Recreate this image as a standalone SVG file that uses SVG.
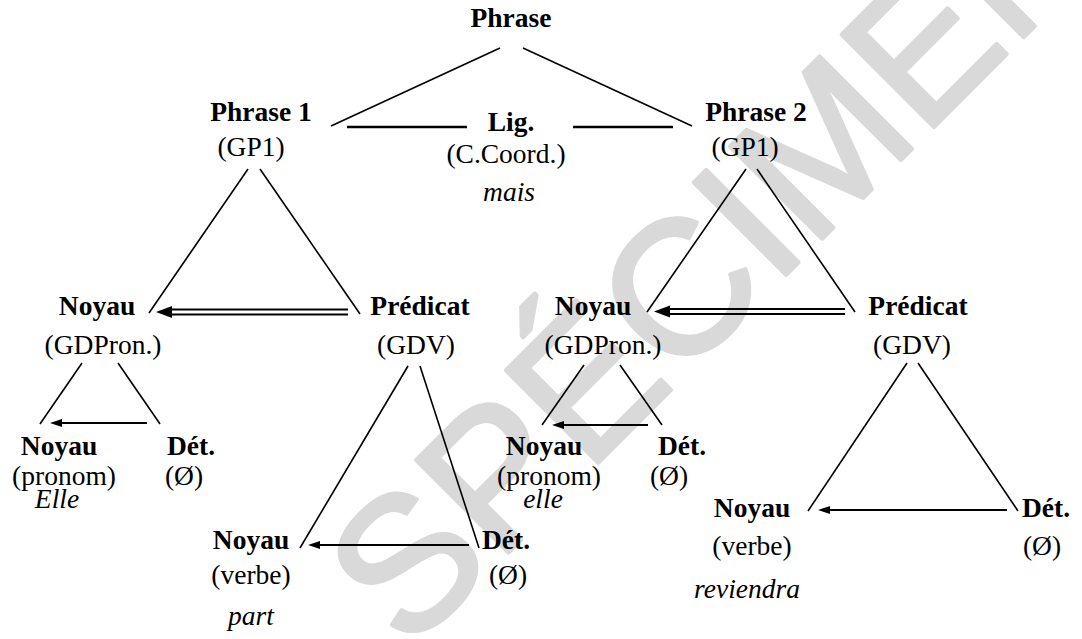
<svg xmlns="http://www.w3.org/2000/svg" width="1082" height="639" viewBox="0 0 1082 639">
<style>
.lb text{font-family:"Liberation Serif","Times New Roman",serif;font-size:27.5px;fill:#000;text-anchor:middle}
.lb .b{font-weight:bold}
.lb .i{font-style:italic}
.wm{font-family:"Liberation Sans",Arial,sans-serif;font-size:190px;fill:#d9d9d9;stroke:#d9d9d9;stroke-width:4;stroke-linejoin:round}
.t{stroke:#000;stroke-width:1.6;fill:none}
.lig{stroke:#000;stroke-width:2.6;fill:none}
.a{stroke:#000;stroke-width:2.2;fill:none}
.d{stroke:#000;stroke-width:2;fill:none}
</style>
<rect width="1082" height="639" fill="#fff"/>
<text class="wm" x="408" y="653" transform="rotate(-45 408 653)">SPÉCIMEN</text>

<g id="connectors">
<line class="t" x1="500" y1="48" x2="331" y2="126"/>
<line class="t" x1="523" y1="48" x2="692" y2="126"/>
<line class="lig" x1="347" y1="127" x2="467" y2="127"/>
<line class="lig" x1="573" y1="127" x2="673" y2="127"/>
<line class="t" x1="248" y1="169" x2="149" y2="313"/>
<line class="t" x1="260" y1="169" x2="360" y2="314"/>
<line class="t" x1="746" y1="169" x2="647" y2="312"/>
<line class="t" x1="757" y1="169" x2="855" y2="312"/>
<line class="d" x1="348" y1="309.5" x2="168" y2="309.5"/>
<line class="d" x1="348" y1="314.5" x2="168" y2="314.5"/>
<path d="M156,312 L172,306 L172,318 Z" fill="#000"/>
<line class="d" x1="845" y1="309" x2="666" y2="309"/>
<line class="d" x1="845" y1="314" x2="666" y2="314"/>
<path d="M654,311.5 L670,305.5 L670,317.5 Z" fill="#000"/>
<line class="t" x1="82" y1="363" x2="40" y2="424"/>
<line class="t" x1="118" y1="363" x2="160" y2="424"/>
<line class="a" x1="147" y1="423" x2="60" y2="423"/>
<path d="M50,423 L62,419 L62,427 Z" fill="#000"/>
<line class="t" x1="584" y1="365" x2="542" y2="425"/>
<line class="t" x1="620" y1="365" x2="662" y2="425"/>
<line class="a" x1="648" y1="425" x2="562" y2="425"/>
<path d="M552,425 L564,421 L564,429 Z" fill="#000"/>
<line class="t" x1="408" y1="366" x2="300" y2="548"/>
<line class="t" x1="420" y1="366" x2="479" y2="548"/>
<line class="a" x1="469" y1="545" x2="318" y2="545"/>
<path d="M308,545 L320,541 L320,549 Z" fill="#000"/>
<line class="t" x1="907" y1="363" x2="808" y2="511"/>
<line class="t" x1="918" y1="363" x2="1018" y2="511"/>
<line class="a" x1="1007" y1="510" x2="828" y2="510"/>
<path d="M818,510 L830,506 L830,514 Z" fill="#000"/>
</g>

<g class="lb">
<g id="phrase"><text class="b" x="511" y="27">Phrase</text></g>
<g id="phrase1"><text class="b" x="261" y="121">Phrase 1</text><text x="251" y="156">(GP1)</text></g>
<g id="lig"><text class="b" x="511" y="131">Lig.</text><text x="506" y="163">(C.Coord.)</text><text class="i" x="509" y="201">mais</text></g>
<g id="phrase2"><text class="b" x="756" y="121">Phrase 2</text><text x="745" y="156">(GP1)</text></g>
<g id="noyau1"><text class="b" x="97" y="315">Noyau</text><text x="103" y="354">(GDPron.)</text></g>
<g id="predicat1"><text class="b" x="420" y="315">Prédicat</text><text x="416" y="354">(GDV)</text></g>
<g id="noyau1a"><text class="b" x="59" y="455">Noyau</text><text x="64" y="485">(pronom)</text><text class="i" x="57" y="508">Elle</text></g>
<g id="det1a"><text class="b" x="191" y="455">Dét.</text><text x="184" y="485">(Ø)</text></g>
<g id="noyau1b"><text class="b" x="251" y="549">Noyau</text><text x="251" y="584">(verbe)</text><text class="i" x="251" y="625">part</text></g>
<g id="det1b"><text class="b" x="506" y="549">Dét.</text><text x="508" y="584">(Ø)</text></g>
<g id="noyau2"><text class="b" x="593" y="315">Noyau</text><text x="603" y="354">(GDPron.)</text></g>
<g id="predicat2"><text class="b" x="918" y="315">Prédicat</text><text x="912" y="354">(GDV)</text></g>
<g id="noyau2a"><text class="b" x="544" y="455">Noyau</text><text x="549" y="485">(pronom)</text><text class="i" x="543" y="508">elle</text></g>
<g id="det2a"><text class="b" x="682" y="455">Dét.</text><text x="669" y="485">(Ø)</text></g>
<g id="noyau2b"><text class="b" x="752" y="517">Noyau</text><text x="752" y="555">(verbe)</text><text class="i" x="747" y="598">reviendra</text></g>
<g id="det2b"><text class="b" x="1046" y="517">Dét.</text><text x="1042" y="555">(Ø)</text></g>
</g>
</svg>
